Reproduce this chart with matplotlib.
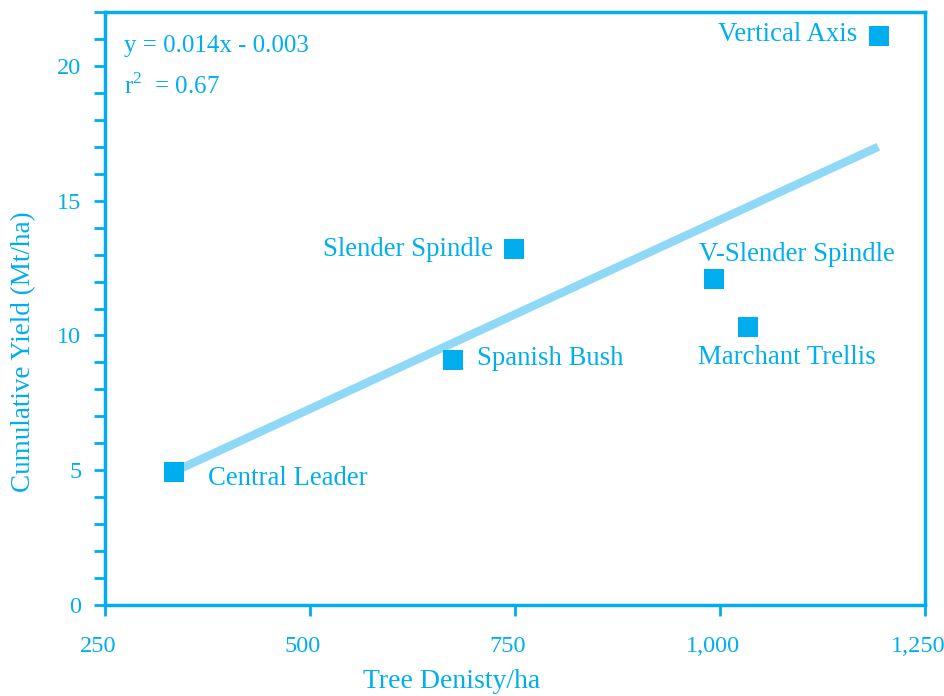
import matplotlib
matplotlib.use("Agg")
import matplotlib.pyplot as plt
import matplotlib.transforms as mtransforms
from matplotlib.ticker import MultipleLocator, FuncFormatter

# ---- data ----
systems = ["Central Leader", "Spanish Bush", "Slender Spindle",
           "V-Slender Spindle", "Marchant Trellis", "Vertical Axis"]
density = [334, 674, 749, 993, 1034, 1194]
yield_cum = [4.93, 9.09, 13.2, 12.1, 10.3, 21.1]
trend_x = [340, 1193]
trend_y = [5.03, 17.0]
equation = "y = 0.014x - 0.003"
r2_text = r"r$^{\mathbf{2}}$  = 0.67"

BLUE = "#00aeef"
LIGHT = "#8fd8f6"
plt.rcParams['font.family'] = ['Liberation Serif', 'DejaVu Serif']
plt.rcParams['mathtext.fontset'] = 'custom'
plt.rcParams['mathtext.rm'] = 'Liberation Serif'
plt.rcParams['mathtext.bf'] = 'Liberation Serif'

fig = plt.figure(figsize=(9.45, 6.96), dpi=100)
ax = fig.add_axes([105/945, 1 - 605/696, 820/945, 593/696])

ax.plot(trend_x, trend_y, color=LIGHT, lw=6, solid_capstyle='butt', zorder=2)
ax.plot(density, yield_cum, 's', color=BLUE, ms=14, zorder=3, markeredgewidth=0)

# label placement (layout): (dx, dy, ha)
layout = {
    "Central Leader": (42, -0.22, 'left'),
    "Spanish Bush": (30, 0.04, 'left'),
    "Slender Spindle": (-26, 0.0, 'right'),
    "V-Slender Spindle": (-19, 0.92, 'left'),
    "Marchant Trellis": (-61, -1.1, 'left'),
    "Vertical Axis": (-27, 0.05, 'right'),
}
for name, x, y in zip(systems, density, yield_cum):
    dx, dy, ha = layout[name]
    ax.text(x + dx, y + dy, name, color=BLUE, fontsize=19.3, ha=ha, va='center')

ax.text(273, 20.74, equation, color=BLUE, fontsize=18, ha='left', va='center')
ax.text(273, 19.26, r2_text, color=BLUE, fontsize=18, ha='left', va='center')

ax.set_xlim(250, 1250)
ax.set_ylim(0, 22)
ax.xaxis.set_major_locator(MultipleLocator(250))
ax.yaxis.set_major_locator(MultipleLocator(5))
ax.yaxis.set_minor_locator(MultipleLocator(1))
ax.xaxis.set_major_formatter(FuncFormatter(lambda v, p: f"{int(v):,}"))

for s in ax.spines.values():
    s.set_color(BLUE)
    s.set_linewidth(2.5)

ax.tick_params(axis='both', which='both', colors=BLUE, labelcolor=BLUE,
               direction='out', width=2, labelsize=17.5)
ax.tick_params(axis='y', which='major', length=8, pad=9)
ax.tick_params(axis='y', which='minor', length=8)
ax.tick_params(axis='x', which='major', length=8, pad=14)

shift = mtransforms.ScaledTranslation(-7/100, 0, fig.dpi_scale_trans)
for lbl in ax.get_xticklabels():
    lbl.set_transform(lbl.get_transform() + shift)

ax.set_xlabel("Tree Denisty/ha", color=BLUE, fontsize=20)
ax.set_ylabel("Cumulative Yield (Mt/ha)", color=BLUE, fontsize=19.5)
ax.xaxis.set_label_coords(0.423, -0.108)
ax.yaxis.set_label_coords(-0.0842, 0.427)

fig.savefig("out.png", dpi=100)
